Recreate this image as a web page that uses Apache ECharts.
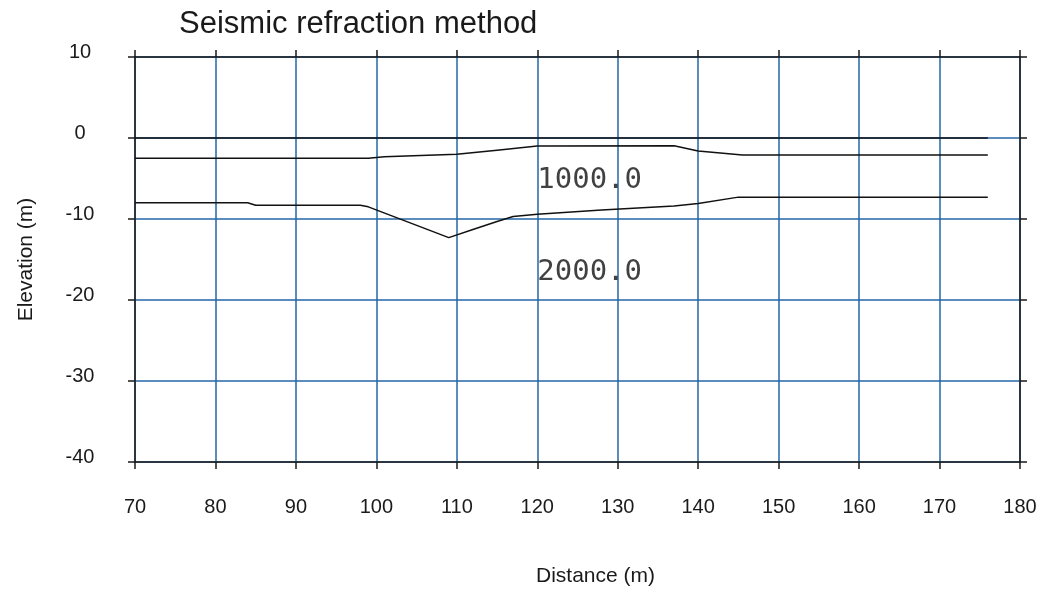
<!DOCTYPE html>
<html>
<head>
<meta charset="utf-8">
<script src="https://cdn.jsdelivr.net/npm/echarts@6/dist/echarts.min.js"></script>
<style>
  html, body { margin: 0; padding: 0; background: #fff; }
  #chart { width: 1047px; height: 597px; }
</style>
</head>
<body>
<div id="chart"></div>
<script>
// distance (m) / elevation (m) of the refractor boundaries
const surface = [[70, 0], [176, 0]];
const layer1 = [[70, -2.5], [99, -2.5], [101, -2.3], [110, -2.0], [115, -1.5], [120, -1.0], [137, -0.95], [140, -1.6], [145.5, -2.1], [176, -2.1]];
const layer2 = [[70, -8.0], [84, -8.0], [85, -8.3], [98, -8.3], [99, -8.5], [109, -12.3], [112, -11.3], [115, -10.3], [117, -9.7], [120, -9.4], [128, -8.9], [137, -8.4], [140, -8.1], [145, -7.3], [176, -7.3]];
const velocityLabels = ['1000.0', '2000.0'];
const velocityPos = [[120, -5.2], [120, -16.65]];

const gridBlue = '#2366a8';
const axisBlack = '#1a1a1a';
const labelFont = { fontFamily: 'Liberation Sans, Arial', fontSize: 20, color: '#1a1a1a' };

const myChart = echarts.init(document.getElementById('chart'));
const lineStyle = { color: '#111', width: 1.5 };

const option = {
  animation: false,
  backgroundColor: '#fff',
  title: {
    text: 'Seismic refraction method',
    left: 174,
    top: 4,
    textStyle: { fontFamily: 'Liberation Sans, Arial', fontSize: 31, fontWeight: 'normal', color: '#1a1a1a' }
  },
  grid: { left: 135, right: 27, top: 57, bottom: 135 },
  xAxis: [{
    type: 'value',
    min: 70,
    max: 180,
    interval: 10,
    name: 'Distance (m)',
    nameLocation: 'middle',
    nameGap: 104,
    nameTextStyle: { fontFamily: 'Liberation Sans, Arial', fontSize: 21, color: '#1a1a1a', padding: [0, 0, 0, 36] },
    axisLine: { show: true, onZero: false, lineStyle: { color: axisBlack, width: 1.5 } },
    axisTick: { show: true, length: 7, lineStyle: { color: axisBlack, width: 1.5 } },
    axisLabel: Object.assign({ margin: 35 }, labelFont),
    splitLine: { show: true, lineStyle: { color: gridBlue, width: 1.5 } }
  }, {
    type: 'value',
    position: 'top',
    min: 70,
    max: 180,
    interval: 10,
    axisLine: { show: true, onZero: false, lineStyle: { color: axisBlack, width: 1.5 } },
    axisTick: { show: true, length: 7, lineStyle: { color: axisBlack, width: 1.5 } },
    axisLabel: { show: false },
    splitLine: { show: false }
  }],
  yAxis: [{
    type: 'value',
    min: -40,
    max: 10,
    interval: 10,
    name: 'Elevation (m)',
    nameLocation: 'middle',
    nameGap: 98,
    nameTextStyle: { fontFamily: 'Liberation Sans, Arial', fontSize: 21, color: '#1a1a1a' },
    axisLine: { show: true, onZero: false, lineStyle: { color: axisBlack, width: 1.5 } },
    axisTick: { show: true, length: 7, lineStyle: { color: axisBlack, width: 1.5 } },
    axisLabel: Object.assign({ margin: 55, align: 'center', verticalAlign: 'bottom', lineHeight: 10 }, labelFont),
    splitLine: { show: true, lineStyle: { color: gridBlue, width: 1.5 } }
  }, {
    type: 'value',
    position: 'right',
    min: -40,
    max: 10,
    interval: 10,
    axisLine: { show: true, onZero: false, lineStyle: { color: axisBlack, width: 1.5 } },
    axisTick: { show: true, length: 7, lineStyle: { color: axisBlack, width: 1.5 } },
    axisLabel: { show: false },
    splitLine: { show: false }
  }],
  series: [
    { type: 'line', data: surface, showSymbol: false, lineStyle: lineStyle, z: 5 },
    { type: 'line', data: layer1, showSymbol: false, lineStyle: lineStyle, z: 5 },
    { type: 'line', data: layer2, showSymbol: false, lineStyle: lineStyle, z: 5 },
    {
      type: 'scatter',
      symbolSize: 0,
      data: velocityLabels.map((t, i) => ({ name: t, value: velocityPos[i] })),
      label: {
        show: true,
        position: 'right',
        distance: 0,
        formatter: '{b}',
        fontFamily: 'DejaVu Sans Mono',
        fontSize: 29,
        color: '#111'
      },
      z: 6
    }
  ]
};

myChart.setOption(option);
</script>
</body>
</html>
